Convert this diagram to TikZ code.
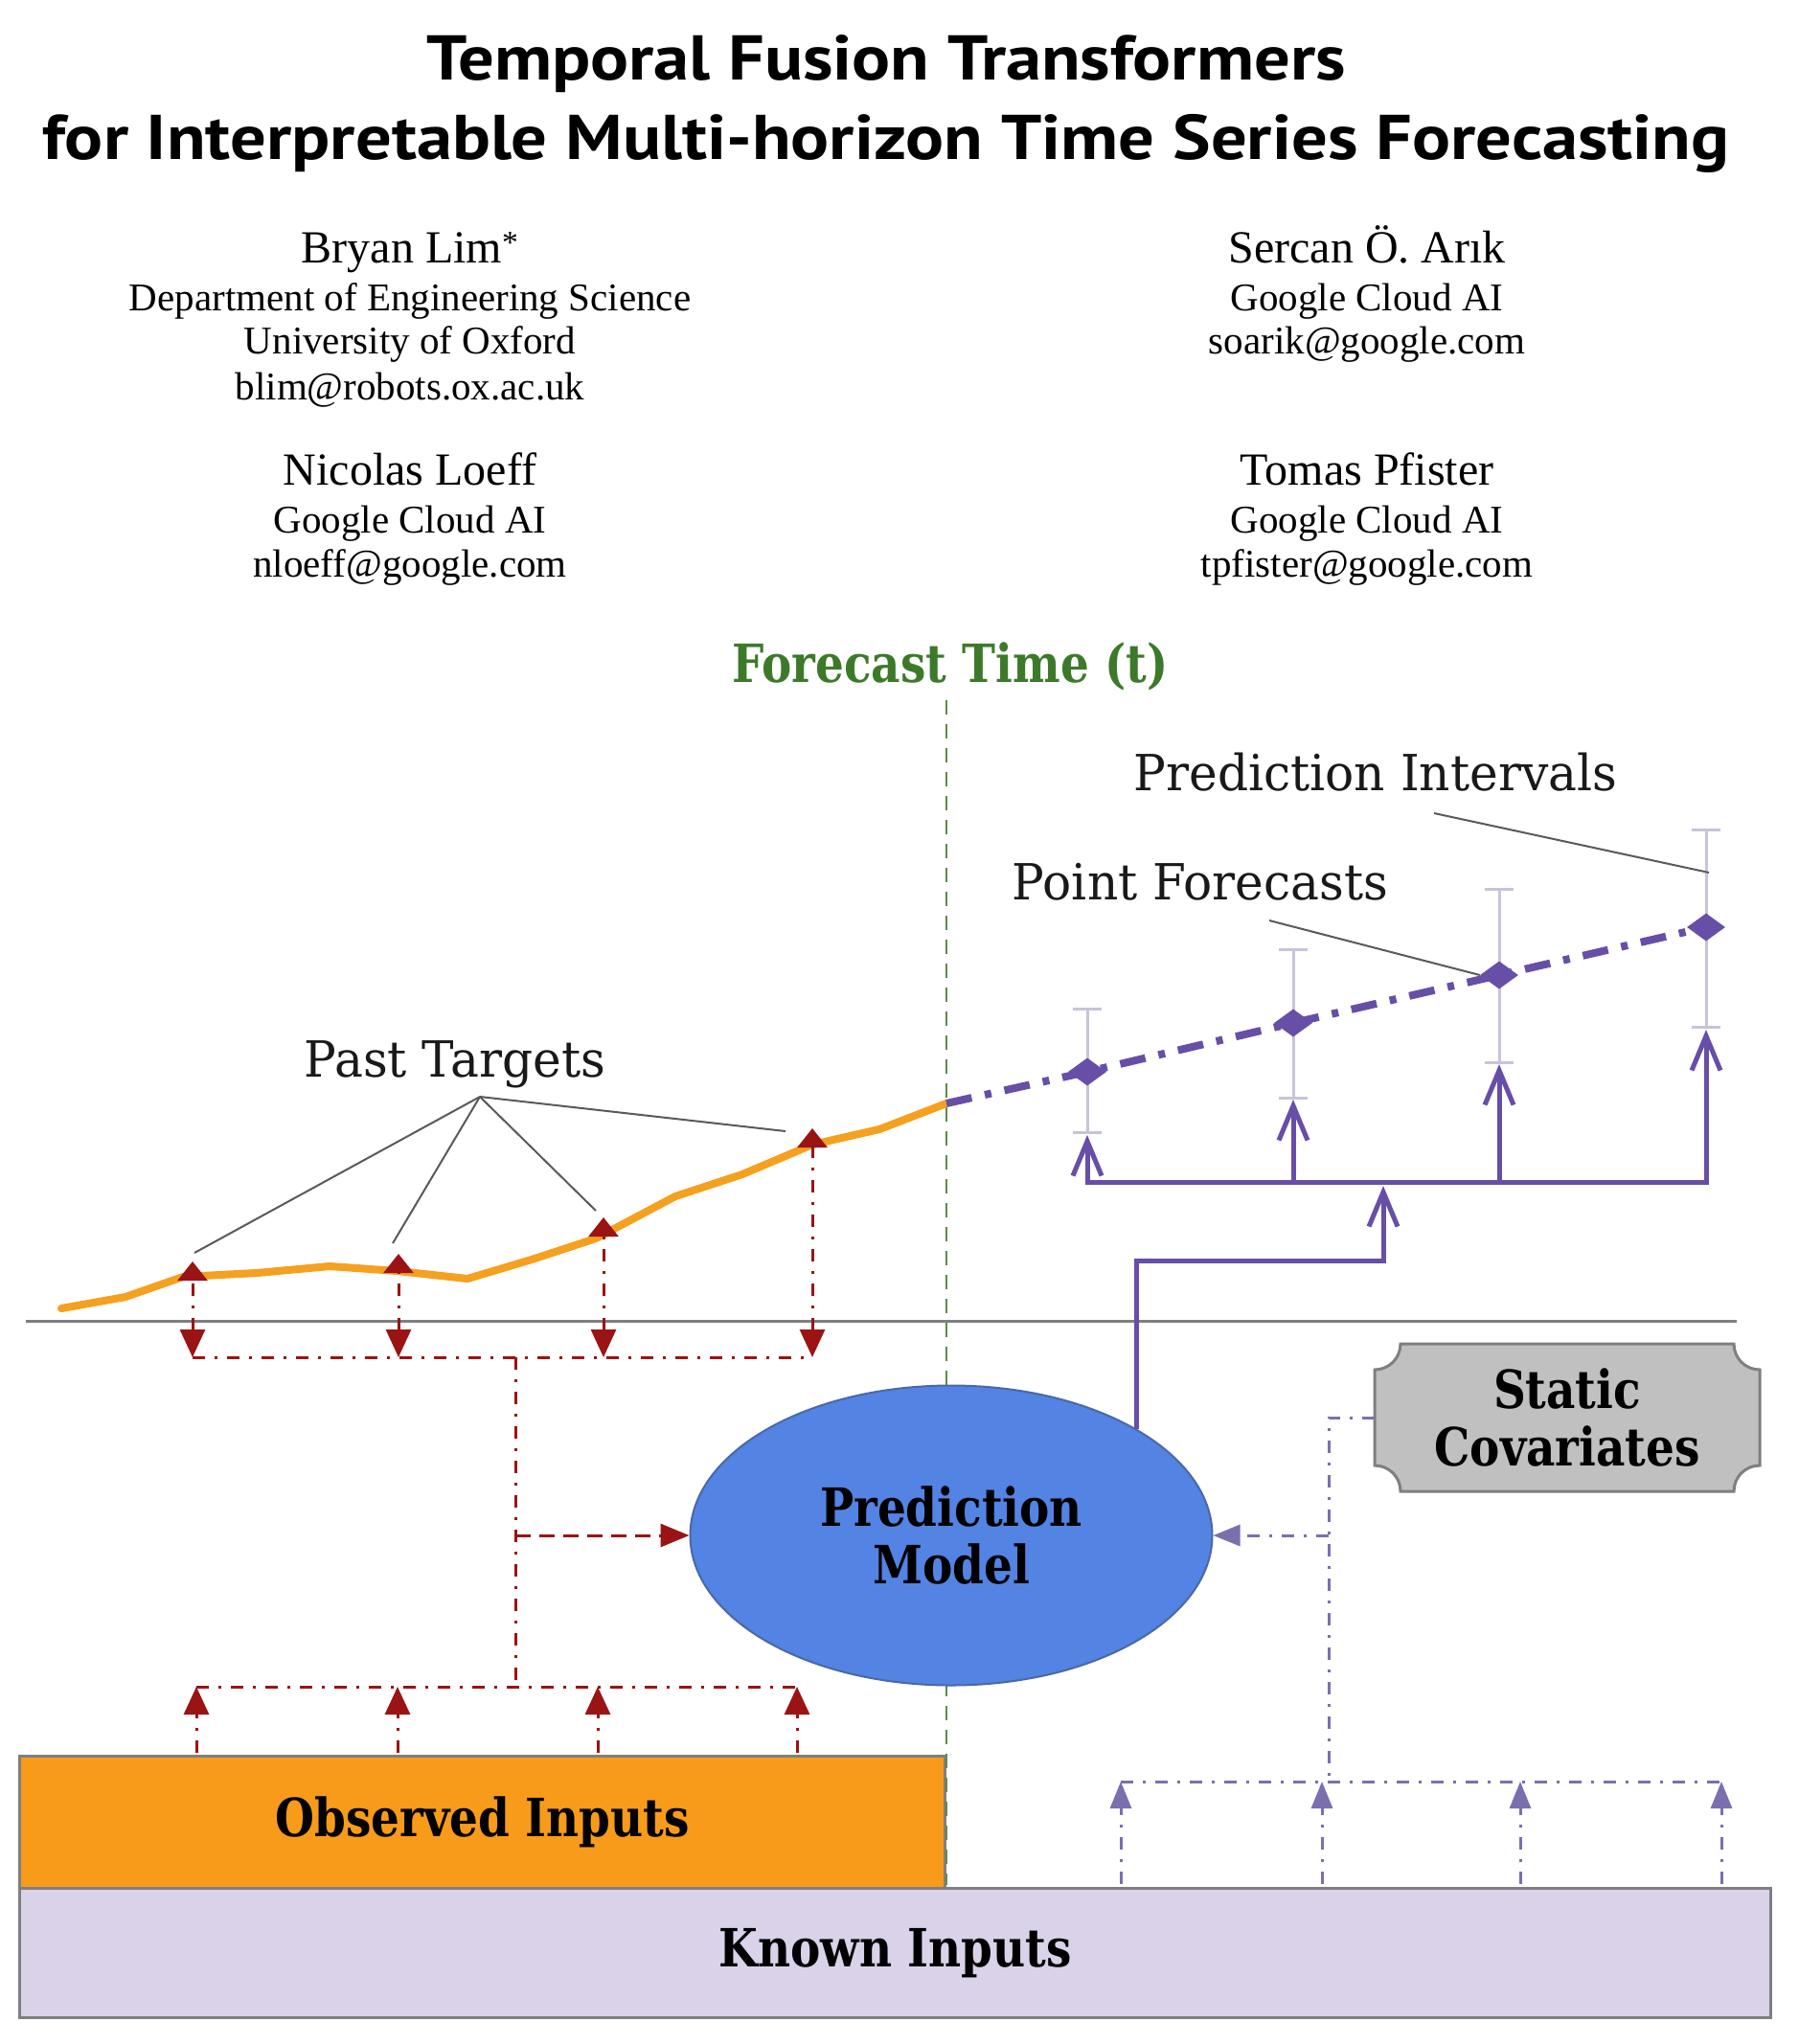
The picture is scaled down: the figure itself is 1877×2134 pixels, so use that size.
\documentclass[tikz,border=0pt]{standalone}
\usepackage{fontspec}
\setmainfont{Liberation Serif}
\newfontfamily\titlefont{PT Sans}[FakeStretch=1.13]
\newfontfamily\lblfont{DejaVu Serif}[FakeStretch=0.965]
\newfontfamily\blblfont{DejaVu Serif}[FakeStretch=0.853]
\usetikzlibrary{arrows.meta,shapes.geometric,calc}
\definecolor{dred}{HTML}{9A1414}
\definecolor{orng}{HTML}{F5A01E}
\definecolor{purp}{HTML}{674EA7}
\definecolor{purpl}{HTML}{7B6FAE}
\definecolor{errc}{HTML}{C8C3DA}
\definecolor{grn}{HTML}{3C7A2A}
\definecolor{grnl}{HTML}{5E8C45}
\definecolor{pmblue}{HTML}{5383E3}
\definecolor{pmbord}{HTML}{4A68A8}
\definecolor{obs}{HTML}{F89B1A}
\definecolor{known}{HTML}{D9D2E9}
\definecolor{statc}{HTML}{C0C0C0}
\definecolor{bord}{HTML}{7F7F7F}
\definecolor{lead}{HTML}{5A5A5A}
\begin{document}
\begin{tikzpicture}[x=1pt,y=-1pt,
  ttl/.style={font=\titlefont\bfseries\fontsize{66}{70}\selectfont, anchor=base, inner sep=0pt},
  nm/.style={font=\fontsize{48}{52}\selectfont, anchor=base, inner sep=0pt},
  af/.style={font=\fontsize{41}{45}\selectfont, anchor=base, inner sep=0pt},
  lbl/.style={font=\lblfont\fontsize{52}{60}\selectfont, anchor=base, inner sep=0pt, text=black!90},
  blbl/.style={font=\blblfont\bfseries\fontsize{55}{60}\selectfont, align=center, inner sep=0pt},
  reddd/.style={draw=dred, line width=3pt, dash pattern=on 13pt off 10pt on 3pt off 10pt},
  pdd/.style={draw=purpl, line width=3pt, dash pattern=on 13pt off 10pt on 3pt off 10pt},
  psolid/.style={draw=purp, line width=5pt},
  fdd/.style={draw=purp, line width=8pt, dash pattern=on 27pt off 14pt on 7pt off 14pt},
  errbar/.style={draw=errc, line width=3pt},
  leader/.style={draw=lead, line width=2pt},
  barb/.style={-{Straight Barb[length=36pt,width=30pt]}},
  ptri/.style={-{Triangle[width=22pt,length=28pt]}},
  pfd/.style={shape=diamond, fill=purp, minimum width=40pt, minimum height=29pt, inner sep=0pt}
]
\useasboundingbox (0,0) rectangle (1877,2134);
\fill[white] (0,0) rectangle (1877,2134);

% ---------- title and authors ----------
\node[ttl] (t1) at (925,83) {Temporal Fusion Transformers};
\node[ttl] (t2) at (925,166) {for Interpretable Multi-horizon Time Series Forecasting};

\node[nm] (a1) at (428,274) {Bryan Lim\textsuperscript{*}};
\node[af] (a1d) at (428,324) {Department of Engineering Science};
\node[af] (a1u) at (428,369) {University of Oxford};
\node[af] (a1e) at (428,417) {blim@robots.ox.ac.uk};
\node[nm] (a2) at (1427,274) {Sercan Ö. Arık};
\node[af] (a2g) at (1427,324) {Google Cloud AI};
\node[af] (a2e) at (1427,369) {soarik@google.com};
\node[nm] (a3) at (428,506) {Nicolas Loeff};
\node[af] (a3g) at (428,556) {Google Cloud AI};
\node[af] (a3e) at (428,602) {nloeff@google.com};
\node[nm] (a4) at (1427,506) {Tomas Pfister};
\node[af] (a4g) at (1427,556) {Google Cloud AI};
\node[af] (a4e) at (1427,602) {tpfister@google.com};

% ---------- boxes ----------
\node[draw=bord, fill=known, line width=3pt, minimum width=1828pt, minimum height=135pt,
      anchor=north west, blbl] (known) at (19,1970) {Known Inputs};
\node[draw=bord, fill=obs, line width=3pt, minimum width=966pt, minimum height=138pt,
      anchor=north west, blbl] (obs) at (19,1832) {Observed Inputs};

% ---------- forecast time ----------
\node[blbl, text=grn, anchor=base] (ftl) at (992,712) {Forecast Time (t)};
\coordinate (ftt) at (988,731);
\coordinate (ftb) at (988,1968);
\draw[grnl, line width=2.5pt, dash pattern=on 15pt off 10pt] (ftt) -- (ftb);

% ---------- horizontal axis ----------
\draw[bord, line width=3pt] (27,1379) -- (1813,1379);

% ---------- past targets ----------
\coordinate (ftj) at (988,1152);
\draw[orng, line width=8pt, line cap=round, line join=round]
  (64,1366) -- (131,1354) -- (191,1333) -- (268,1329) -- (344,1322) -- (415,1327)
  -- (488,1335) -- (555,1315) -- (622,1293) -- (705,1249) -- (775,1226)
  -- (848,1195) -- (918,1179) -- (ftj);

\coordinate (rt1) at (201,1317);
\coordinate (rt2) at (416,1309);
\coordinate (rt3) at (630,1271);
\coordinate (rt4) at (848,1178);
\coordinate (rb1) at (201,1417);
\coordinate (rb2) at (416,1417);
\coordinate (rb3) at (630,1417);
\coordinate (rb4) at (848,1417);
\foreach \i in {1,2,3,4}{
  \draw[reddd, {Triangle[width=26pt,length=29pt]}-{Triangle[width=31pt,length=20pt]}] (rb\i) -- (rt\i);
}
\draw[reddd] (rb1) -- (rb4);
\coordinate (rj1) at (538,1417);
\coordinate (rj2) at (538,1761);
\coordinate (rj3) at (538,1603);
\draw[reddd] (rj1) -- (rj2);
\coordinate (lb1) at (205,1761);
\coordinate (lb2) at (415,1761);
\coordinate (lb3) at (624,1761);
\coordinate (lb4) at (832,1761);
\draw[reddd] (lb1) -- (lb4);
\coordinate (os1) at (205,1830);
\coordinate (os2) at (415,1830);
\coordinate (os3) at (624,1830);
\coordinate (os4) at (832,1830);
\foreach \i in {1,2,3,4}{
  \draw[reddd, -{Triangle[width=26pt,length=29pt]}] (os\i) -- (lb\i);
}

\node[lbl] (past) at (475,1124) {Past Targets};
\coordinate (pastc) at (501,1145);
\coordinate (pl1) at (203,1308);
\coordinate (pl2) at (410,1298);
\coordinate (pl3) at (622,1264);
\coordinate (pl4) at (820,1181);
\foreach \i in {1,2,3,4}{ \draw[leader] (pastc) -- (pl\i); }

% ---------- static covariates ----------
\draw[draw=bord, fill=statc, line width=3pt]
  (1435,1430) .. controls (1450,1430) and (1462,1418) .. (1462,1403) -- (1810,1403)
  .. controls (1810,1418) and (1822,1430) .. (1837,1430) -- (1837,1530)
  .. controls (1822,1530) and (1810,1542) .. (1810,1557) -- (1462,1557)
  .. controls (1462,1542) and (1450,1530) .. (1435,1530) -- cycle;
\node[blbl, minimum width=402pt, minimum height=154pt] (static) at (1636,1480) {Static\\Covariates};

% ---------- prediction model ----------
\node[ellipse, draw=pmbord, line width=2pt, fill=pmblue, minimum width=545pt, minimum height=313pt,
      blbl] (pm) at (993,1603) {Prediction\\Model};

\draw[dred, line width=3pt, dash pattern=on 16pt off 9pt, -{Triangle[width=24pt,length=30pt]}] (rj3) -- (pm.west);

\coordinate (kj) at (1387,1860);
\coordinate (sj) at (1387,1603);
\draw[pdd] (static.west) -| (kj);
\draw[pdd, ptri] (sj) -- (pm.east);
\coordinate (kb1) at (1170,1860);
\coordinate (kb2) at (1380,1860);
\coordinate (kb3) at (1587,1860);
\coordinate (kb4) at (1797,1860);
\draw[pdd] (kb1) -- (kb4);
\coordinate (ks1) at (1170,1967);
\coordinate (ks2) at (1380,1967);
\coordinate (ks3) at (1587,1967);
\coordinate (ks4) at (1797,1967);
\foreach \i in {1,2,3,4}{ \draw[pdd, ptri] (ks\i) -- (kb\i); }

% ---------- forecasts ----------
\coordinate (et1) at (1135,1053); \coordinate (eb1) at (1135,1182);
\coordinate (et2) at (1350,991);  \coordinate (eb2) at (1350,1146);
\coordinate (et3) at (1565,928);  \coordinate (eb3) at (1565,1109);
\coordinate (et4) at (1781,866);  \coordinate (eb4) at (1781,1072);
\foreach \i in {1,2,3,4}{
  \draw[errbar] (et\i) -- (eb\i);
  \draw[errbar] ($(et\i)+(-15,0)$) -- ($(et\i)+(15,0)$);
  \draw[errbar] ($(eb\i)+(-15,0)$) -- ($(eb\i)+(15,0)$);
}
\coordinate (pp1) at (1135,1119);
\coordinate (pp2) at (1350,1068);
\coordinate (pp3) at (1565,1018);
\coordinate (pp4) at (1781,968);
\draw[fdd] (ftj) -- (pp1) -- (pp2) -- (pp3) -- (pp4);
\foreach \i in {1,2,3,4}{ \node[pfd] (pf\i) at (pp\i) {}; }

\coordinate (bb1) at (1135,1234);
\coordinate (bb2) at (1350,1234);
\coordinate (bb3) at (1565,1234);
\coordinate (bb4) at (1781,1234);
\draw[psolid, {Straight Barb[length=36pt,width=30pt]}-{Straight Barb[length=36pt,width=30pt]}]
  ($(eb1)+(0,3)$) -- (bb1) -- (bb4) -- ($(eb4)+(0,3)$);
\draw[psolid, barb] (bb2) -- ($(eb2)+(0,2)$);
\draw[psolid, barb] (bb3) -- ($(eb3)+(0,2)$);
\coordinate (pj) at (1444,1316);
\coordinate (pbus) at (1444,1238);
\draw[psolid, barb] (pm.30) |- (pj) -- (pbus);

\node[lbl] (pointf) at (1253,939) {Point Forecasts};
\node[lbl] (predi) at (1436,825) {Prediction Intervals};
\coordinate (pfc) at (1325,961);
\coordinate (pic) at (1497,849);
\coordinate (pie) at (1784,911);
\draw[leader] (pfc) -- (pf3.west);
\draw[leader] (pic) -- (pie);
\end{tikzpicture}
\end{document}
